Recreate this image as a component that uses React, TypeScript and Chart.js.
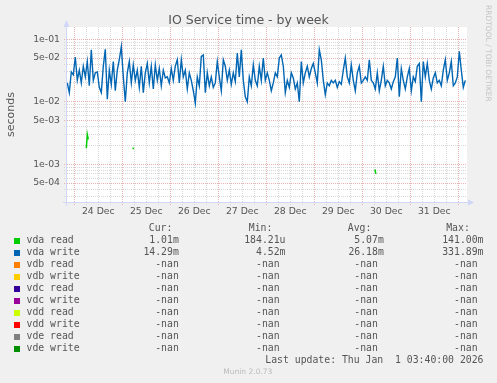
import React, { useEffect, useRef } from 'react';
import { Chart, registerables } from 'chart.js';

Chart.register(...registerables);

// ---- Data ----
// vda write, one sample per hour, starting 23 Dec 20:30 (hours relative to 24 Dec 00:00), values in milliseconds
const WRITE_START_HOUR = -3.5;
const WRITE_STEP_HOURS = 1;
const vdaWriteMs = [
  20, 14, 30, 27, 52, 22, 32, 20, 37, 25, 44, 18, 68, 22, 29, 30, 17, 14, 37, 69,
  11, 32, 19, 44, 15, 32, 47, 76, 25, 10, 29, 44, 20, 39, 22, 32, 17, 37, 14, 29,
  41, 20, 37, 16, 39, 22, 34, 18, 32, 24,
  25, 20, 34, 22, 37, 47, 20, 47, 25, 32, 16, 29, 22, 15, 9.5, 25, 18, 53, 56, 14,
  29, 18, 25, 17, 20, 44, 25, 15, 47, 37, 22, 32, 19, 29, 21, 60, 25, 68, 22, 12,
  10, 25, 18, 39, 22, 18, 37, 22, 50, 22,
  29, 22, 15, 20, 29, 25, 50, 56, 37, 14, 22, 17, 29, 24, 16, 20, 10, 44, 20, 29,
  37, 25, 34, 41, 29, 20, 68, 47, 22, 13, 20, 18, 22, 20, 22, 17, 21, 19, 32, 50,
  25, 20, 39, 22, 15, 29, 37, 20, 22, 25,
  22, 47, 22, 20, 16, 29, 15, 22, 37, 18, 22, 20, 16, 21, 25, 50, 12, 34, 22, 16,
  25, 34, 15, 25, 21, 37, 41, 10, 44, 25, 41, 22, 16, 24, 29, 20, 22, 18, 32, 47,
  22, 29, 44, 18, 20, 25, 64, 32, 17, 22,
];

// vda read: only a few short bursts are visible (null = no data)
const vdaReadHours = [6.0, 6.5, 7.0, 7.5, 29.2, 29.7, 30.2, 150.3, 150.8, 151.3];
const vdaReadMs = [1.8, 3.0, 2.5, null, 1.85, 1.75, null, 0.83, 0.7, null];

const dayLabels = ['24 Dec', '25 Dec', '26 Dec', '27 Dec', '28 Dec', '29 Dec', '30 Dec', '31 Dec'];

const legendNames = ['vda read', 'vda write', 'vdb read', 'vdb write', 'vdc read', 'vdc write', 'vdd read', 'vdd write', 'vde read', 'vde write'];
const legendColors = ['#00CC00', '#0066B3', '#FF8000', '#FFCC00', '#330099', '#990099', '#CCFF00', '#FF0000', '#808080', '#008F00'];
const curValues = ['1.01m', '14.29m', '-nan', '-nan', '-nan', '-nan', '-nan', '-nan', '-nan', '-nan'];
const minValues = ['184.21u', '4.52m', '-nan ', '-nan ', '-nan ', '-nan ', '-nan ', '-nan ', '-nan ', '-nan '];
const avgValues = ['5.07m', '26.18m', '-nan ', '-nan ', '-nan ', '-nan ', '-nan ', '-nan ', '-nan ', '-nan '];
const maxValues = ['141.00m', '331.89m', '-nan ', '-nan ', '-nan ', '-nan ', '-nan ', '-nan ', '-nan ', '-nan '];
const columnHeaders = ['Cur:', 'Min:', 'Avg:', 'Max:'];
const lastUpdate = 'Last update: Thu Jan  1 03:40:00 2026';

// ---- Axis ranges ----
const X_MIN = -3.65;
const X_MAX = 196.35;
const Y_MIN = 2.49e-4;
const Y_MAX = 0.157;

const FONT = 'DejaVu Sans';
const MONO = 'DejaVu Sans Mono';
const TEXT = '#555555';
const MAJOR_GRID = '#EAB0B0';
const MINOR_GRID = '#D6D6D6';
const AXIS = '#CFD6F8';

function mantissa(v: number) {
  const e = Math.floor(Math.log10(v) + 1e-9);
  return { k: Math.round(v / Math.pow(10, e)), e };
}

const rrdPlugin = {
  id: 'rrdCanvas',
  beforeDraw(chart: any) {
    const { ctx, chartArea: a } = chart;
    ctx.save();
    ctx.fillStyle = '#FFFFFF';
    ctx.fillRect(a.left, a.top, a.right - a.left, a.bottom - a.top);
    ctx.restore();
  },
  afterDatasetsDraw(chart: any) {
    const { ctx, chartArea: a } = chart;
    ctx.save();
    ctx.strokeStyle = AXIS;
    ctx.fillStyle = AXIS;
    ctx.lineWidth = 1;
    const lx = a.left - 0.5;
    const by = a.bottom + 0.5;
    ctx.beginPath();
    ctx.moveTo(lx, by + 3);
    ctx.lineTo(lx, a.top - 4);
    ctx.moveTo(a.left - 4, by);
    ctx.lineTo(a.right + 3, by);
    ctx.stroke();
    ctx.beginPath();
    ctx.moveTo(lx, a.top - 7);
    ctx.lineTo(lx - 3, a.top);
    ctx.lineTo(lx + 3, a.top);
    ctx.closePath();
    ctx.fill();
    ctx.beginPath();
    ctx.moveTo(a.right + 7, by);
    ctx.lineTo(a.right + 1, by - 3);
    ctx.lineTo(a.right + 1, by + 3);
    ctx.closePath();
    ctx.fill();
    ctx.restore();
  },
};

export default function App() {
  const ref = useRef<HTMLCanvasElement>(null);

  useEffect(() => {
    if (!ref.current) return;
    const writePoints = vdaWriteMs.map((v, i) => ({ x: WRITE_START_HOUR + i * WRITE_STEP_HOURS, y: v / 1000 }));
    const readPoints = vdaReadHours.map((h, i) => ({ x: h, y: vdaReadMs[i] == null ? null : (vdaReadMs[i] as number) / 1000 }));

    const chart = new Chart(ref.current, {
      type: 'line',
      data: {
        datasets: [
          { label: 'vda read', data: readPoints as any, borderColor: '#00CC00', borderWidth: 1.5, pointRadius: 0, tension: 0, spanGaps: false },
          { label: 'vda write', data: writePoints, borderColor: '#0066B3', borderWidth: 1.4, pointRadius: 0, tension: 0, spanGaps: false },
        ],
      },
      options: {
        responsive: false,
        animation: false,
        devicePixelRatio: 1,
        events: [],
        layout: { padding: { left: 0, top: 27, right: 30, bottom: 161 } },
        plugins: { legend: { display: false }, tooltip: { enabled: false }, title: { display: false } },
        scales: {
          x: {
            type: 'linear',
            min: X_MIN,
            max: X_MAX,
            afterBuildTicks: (scale: any) => {
              const t: any[] = [];
              for (let h = 0; h <= 192; h += 6) t.push({ value: h });
              scale.ticks = t;
            },
            afterFit: (scale: any) => { scale.height = 20; },
            grid: {
              color: (c: any) => (c.tick && c.tick.value % 24 === 0 ? MAJOR_GRID : MINOR_GRID),
              lineWidth: 1,
              drawTicks: true,
              tickLength: 3,
              tickBorderDash: [1, 1],
            },
            border: { display: false, dash: [1, 1] },
            ticks: {
              autoSkip: false,
              maxRotation: 0,
              padding: 1.5,
              color: TEXT,
              font: { family: FONT, size: 9.3 },
              callback: (v: any) => {
                const h = Number(v);
                return h % 24 === 12 ? dayLabels[(h - 12) / 24] ?? '' : '';
              },
            },
          },
          y: {
            type: 'logarithmic',
            min: Y_MIN,
            max: Y_MAX,
            bounds: 'data',
            afterBuildTicks: (scale: any) => {
              const t: any[] = [];
              for (let e = -4; e <= -1; e++) {
                for (let k = 1; k <= 9; k++) {
                  const v = Number((k * Math.pow(10, e)).toPrecision(3));
                  if (v >= Y_MIN && v <= Y_MAX) t.push({ value: v });
                }
              }
              scale.ticks = t;
            },
            afterFit: (scale: any) => { scale.width = 67; },
            title: {
              display: true,
              text: 'seconds',
              color: TEXT,
              font: { family: FONT, size: 11 },
              padding: { top: 5, bottom: 0 },
            },
            grid: {
              color: (c: any) => {
                if (!c.tick) return MINOR_GRID;
                const { k } = mantissa(c.tick.value);
                return k === 1 || k === 5 ? MAJOR_GRID : MINOR_GRID;
              },
              lineWidth: 1,
              drawTicks: true,
              tickLength: 3,
              tickBorderDash: [1, 1],
            },
            border: { display: false, dash: [1, 1] },
            ticks: {
              autoSkip: false,
              padding: 4,
              color: TEXT,
              font: { family: FONT, size: 9.3 },
              callback: (v: any) => {
                const { k, e } = mantissa(Number(v));
                if (k !== 1 && k !== 5) return '';
                return `${k}e-${String(-e).padStart(2, '0')}`;
              },
            },
          },
        },
      } as any,
      plugins: [rrdPlugin],
    });
    return () => chart.destroy();
  }, []);

  const rowTop = (k: number) => 222 + 12 * k;
  const monoStyle: React.CSSProperties = {
    position: 'absolute',
    fontFamily: MONO,
    fontSize: '9.8px',
    lineHeight: '12px',
    color: TEXT,
    whiteSpace: 'pre',
  };
  const colRights = [178.8, 285.5, 383.8, 483.5];
  const colHeaderLefts = [148.8, 248.8, 347.8, 446.2];
  const columns = [curValues, minValues, avgValues, maxValues];

  return (
    <div style={{ position: 'absolute', left: 0, top: 0, width: 497, height: 383, background: '#F0F0F0', overflow: 'hidden' }}>
      <canvas ref={ref} width={497} height={383} style={{ position: 'absolute', left: 0, top: 0, width: 497, height: 383 }} />
      <div style={{ position: 'absolute', left: 0, top: 12, width: 497, textAlign: 'center', fontFamily: FONT, fontSize: '12.5px', lineHeight: '15px', color: TEXT, whiteSpace: 'pre' }}>
        IO Service time - by week
      </div>
      <div style={{ position: 'absolute', left: 484, top: 4.5, writingMode: 'vertical-rl', fontFamily: FONT, fontSize: '7.5px', lineHeight: '9px', color: '#C4C4C4', whiteSpace: 'pre' }}>
        RRDTOOL / TOBI OETIKER
      </div>
      {columnHeaders.map((h, i) => (
        <div key={h} style={{ ...monoStyle, top: rowTop(0), left: colHeaderLefts[i] }}>{h}</div>
      ))}
      {legendNames.map((name, r) => (
        <React.Fragment key={name}>
          <div style={{ position: 'absolute', left: 14, top: rowTop(r + 1) + 3.5, width: 6, height: 6, background: legendColors[r] }} />
          <div style={{ ...monoStyle, top: rowTop(r + 1), left: 26.5 }}>{name}</div>
          {columns.map((col, c) => (
            <div key={c} style={{ ...monoStyle, top: rowTop(r + 1), right: 497 - colRights[c], textAlign: 'right' }}>{col[r]}</div>
          ))}
        </React.Fragment>
      ))}
      <div style={{ ...monoStyle, top: rowTop(11), right: 497 - colRights[3], textAlign: 'right' }}>{lastUpdate}</div>
      <div style={{ position: 'absolute', left: 223.3, top: 367, fontFamily: FONT, fontSize: '7.5px', lineHeight: '9px', color: '#BBBBBB', whiteSpace: 'pre' }}>
        Munin 2.0.73
      </div>
    </div>
  );
}
